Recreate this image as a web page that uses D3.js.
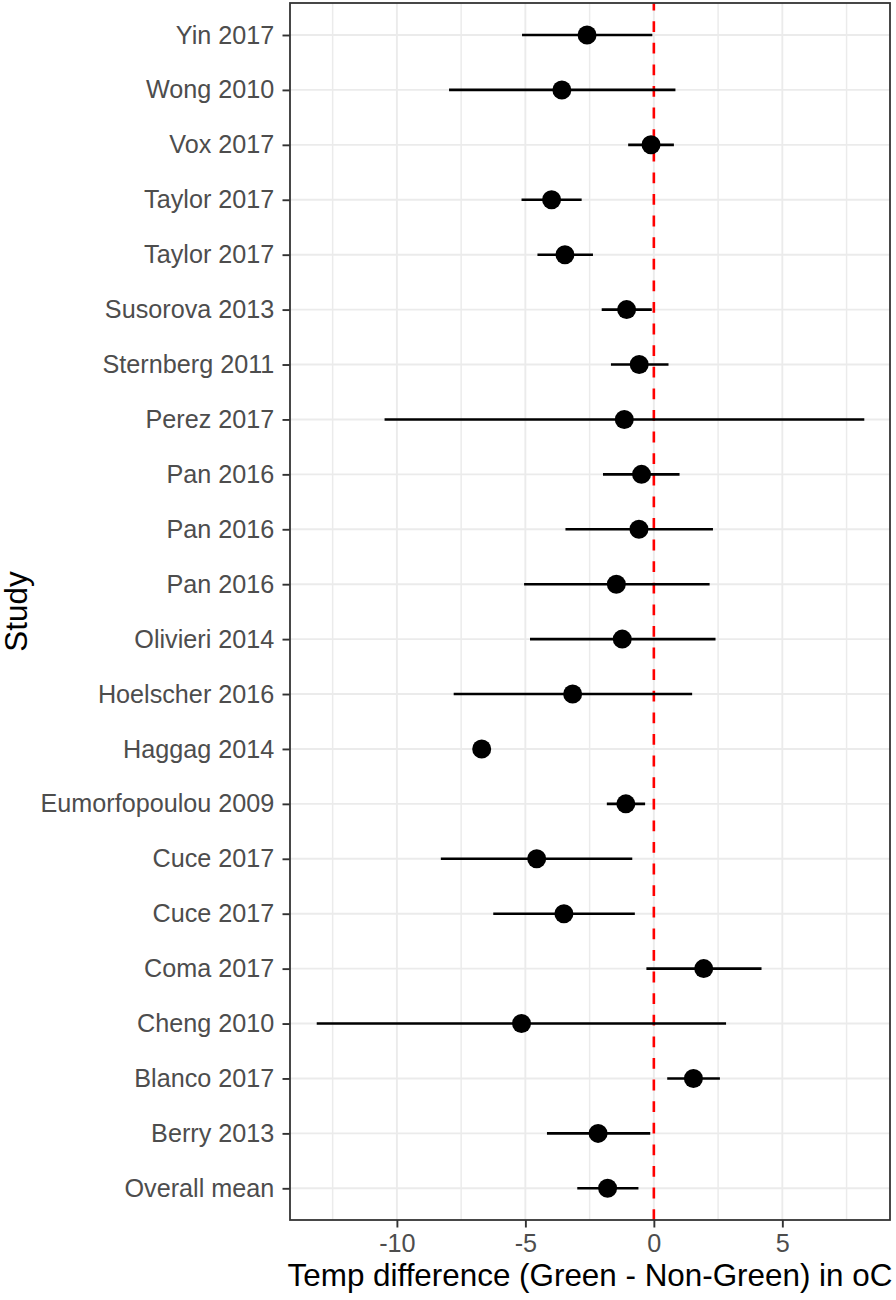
<!DOCTYPE html>
<html>
<head>
<meta charset="utf-8">
<script src="https://cdn.jsdelivr.net/npm/d3@7"></script>
<style>
  html, body { margin: 0; padding: 0; background: #fff; }
  svg { display: block; }
  text { font-family: "Liberation Sans", Arial, sans-serif; }
</style>
</head>
<body>
<svg id="chart" width="896" height="1300"></svg>
<script>
// ---- data (top to bottom) ----
const studies = [
  "Yin 2017", "Wong 2010", "Vox 2017", "Taylor 2017", "Taylor 2017",
  "Susorova 2013", "Sternberg 2011", "Perez 2017", "Pan 2016", "Pan 2016",
  "Pan 2016", "Olivieri 2014", "Hoelscher 2016", "Haggag 2014",
  "Eumorfopoulou 2009", "Cuce 2017", "Cuce 2017", "Coma 2017", "Cheng 2010",
  "Blanco 2017", "Berry 2013", "Overall mean"
];
const estimate = [
  -2.60, -3.58, -0.11, -3.98, -3.46,
  -1.06, -0.57, -1.15, -0.48, -0.58,
  -1.46, -1.23, -3.16, -6.70,
  -1.09, -4.56, -3.50, 1.94, -5.15,
  1.54, -2.17, -1.80
];
const lower = [
  -5.13, -7.97, -1.00, -5.15, -4.53,
  -2.03, -1.67, -10.48, -1.98, -3.44,
  -5.05, -4.82, -7.79, -6.70,
  -1.83, -8.29, -6.25, -0.29, -13.12,
  0.52, -4.16, -2.98
];
const upper = [
  -0.06, 0.84, 0.78, -2.81, -2.37,
  -0.08, 0.57, 8.19, 1.00, 2.30,
  2.17, 2.40, 1.49, -6.70,
  -0.34, -0.84, -0.74, 4.19, 2.81,
  2.57, -0.14, -0.60
];
const xTicks = [-10, -5, 0, 5];
const xMinor = [-12.5, -7.5, -2.5, 2.5, 7.5];
const xDomain = [-14.16, 9.19];
const refLine = 0;
const xTitle = "Temp difference (Green - Non-Green) in oC";
const yTitle = "Study";

// ---- layout ----
const panel = { left: 290, right: 890, top: 3, bottom: 1220 };
const svg = d3.select("#chart");

const x = d3.scaleLinear().domain(xDomain).range([panel.left, panel.right]);
const idx = studies.map((d, i) => i);
const y = d3.scalePoint().domain(idx).range([35, 1188.3]);

// panel background
svg.append("rect")
  .attr("x", panel.left).attr("y", panel.top)
  .attr("width", panel.right - panel.left).attr("height", panel.bottom - panel.top)
  .attr("fill", "#fff");

// grid lines
const grid = svg.append("g");
grid.selectAll(".minor").data(xMinor).join("line")
  .attr("x1", d => x(d)).attr("x2", d => x(d))
  .attr("y1", panel.top).attr("y2", panel.bottom)
  .attr("stroke", "#EBEBEB").attr("stroke-width", 1.5);
grid.selectAll(".majorx").data(xTicks).join("line")
  .attr("x1", d => x(d)).attr("x2", d => x(d))
  .attr("y1", panel.top).attr("y2", panel.bottom)
  .attr("stroke", "#EBEBEB").attr("stroke-width", 1.9);
grid.selectAll(".majory").data(idx).join("line")
  .attr("x1", panel.left).attr("x2", panel.right)
  .attr("y1", d => y(d)).attr("y2", d => y(d))
  .attr("stroke", "#EBEBEB").attr("stroke-width", 1.9);

// reference line (drawn from bottom upward so dashes start at the bottom)
svg.append("line")
  .attr("x1", x(refLine)).attr("x2", x(refLine))
  .attr("y1", panel.bottom).attr("y2", panel.top)
  .attr("stroke", "#FF0000").attr("stroke-width", 2.6)
  .attr("stroke-dasharray", "10.8,10.8");

// error bars
svg.append("g").selectAll("line").data(idx).join("line")
  .attr("x1", i => x(lower[i])).attr("x2", i => x(upper[i]))
  .attr("y1", i => y(i)).attr("y2", i => y(i))
  .attr("stroke", "#000").attr("stroke-width", 2.6);

// points
svg.append("g").selectAll("circle").data(idx).join("circle")
  .attr("cx", i => x(estimate[i])).attr("cy", i => y(i))
  .attr("r", 9.5).attr("fill", "#000");

// panel border
svg.append("rect")
  .attr("x", panel.left).attr("y", panel.top)
  .attr("width", panel.right - panel.left).attr("height", panel.bottom - panel.top)
  .attr("fill", "none").attr("stroke", "#333333").attr("stroke-width", 1.8);

// axes
const yAxis = svg.append("g")
  .attr("transform", `translate(${panel.left},0)`)
  .call(d3.axisLeft(y).tickFormat(i => studies[i]).tickSize(7.5).tickPadding(8.2));
const xAxis = svg.append("g")
  .attr("transform", `translate(0,${panel.bottom})`)
  .call(d3.axisBottom(x).tickValues(xTicks).tickFormat(d3.format("d")).tickSize(7.5).tickPadding(6.5));

[yAxis, xAxis].forEach(ax => {
  ax.select(".domain").remove();
  ax.selectAll(".tick line").attr("stroke", "#333333").attr("stroke-width", 1.9);
  ax.selectAll(".tick text")
    .attr("fill", "#4D4D4D")
    .style("font-size", "25.2px")
    .style("font-family", "'Liberation Sans', Arial, sans-serif");
});
xAxis.selectAll(".tick text").text(d => (d < 0 ? "-" + Math.abs(d) : d));

// titles
svg.append("text")
  .attr("x", (panel.left + panel.right) / 2).attr("y", 1286)
  .attr("text-anchor", "middle")
  .style("font-size", "31.4px").attr("fill", "#000")
  .text(xTitle);
svg.append("text")
  .attr("transform", `translate(27,${(panel.top + panel.bottom) / 2}) rotate(-90)`)
  .attr("text-anchor", "middle")
  .style("font-size", "31.4px").attr("fill", "#000")
  .text(yTitle);
</script>
</body>
</html>
